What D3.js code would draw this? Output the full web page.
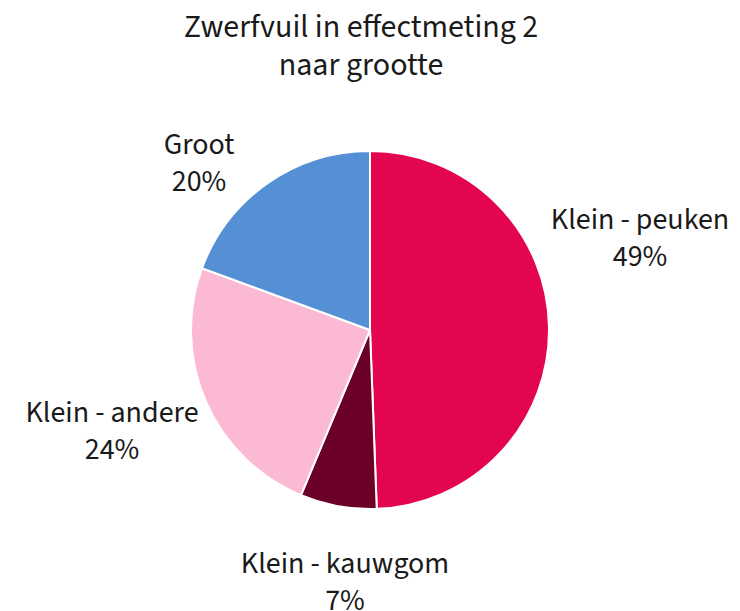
<html>
<head>
<script src="https://d3js.org/d3.v7.min.js"></script>
<style>
body { margin: 0; background: #fff; }
text { font-family: "Source Sans Pro", "Source Sans 3", "Open Sans", sans-serif; fill: #1a1a1a; }
</style>
</head>
<body>
<svg width="740" height="611"></svg>
<script>
// data (slice sizes from the drawn angles, labels as printed)
var categories = ["Klein - peuken", "Klein - kauwgom", "Klein - andere", "Groot"];
var values = [49.4, 6.9, 24.3, 19.4];
var pctLabels = ["49%", "7%", "24%", "20%"];
var colors = ["#e30550", "#6b0028", "#fbb9d3", "#5590d5"];
var titleLines = ["Zwerfvuil in effectmeting 2", "naar grootte"];

var svg = d3.select("svg");
var cx = 370, cy = 330, R = 179;

// title
svg.append("text")
  .attr("x", 361).attr("y", 37)
  .attr("text-anchor", "middle")
  .style("font-size", "32px")
  .selectAll("tspan").data(titleLines).enter()
  .append("tspan")
  .attr("x", 361)
  .attr("dy", function(d, i) { return i ? 38 : 0; })
  .text(function(d) { return d; });

var pie = d3.pie().sort(null).value(function(d) { return d; });
var arcs = pie(values);
var arc = d3.arc().innerRadius(0).outerRadius(R);

var g = svg.append("g").attr("transform", "translate(" + cx + "," + cy + ")");

g.selectAll("path").data(arcs).enter().append("path")
  .attr("d", arc)
  .attr("fill", function(d, i) { return colors[i]; })
  .attr("stroke", "#fff")
  .attr("stroke-width", 2);

// label offsets from the pie centre (first baseline), as placed in the original
var labelAt = [[270, -101], [-25, 243], [-258, 92], [-171, -176]];

var lab = g.selectAll("text.lab").data(arcs).enter().append("text")
  .attr("class", "lab")
  .attr("text-anchor", "middle")
  .style("font-size", "30px")
  .attr("transform", function(d, i) {
    return "translate(" + labelAt[i][0] + "," + labelAt[i][1] + ")";
  });

lab.append("tspan").attr("x", 0).attr("y", 0)
  .text(function(d, i) { return categories[i]; });
lab.append("tspan").attr("x", 0).attr("y", 37)
  .text(function(d, i) { return pctLabels[i]; });
</script>
</body>
</html>
